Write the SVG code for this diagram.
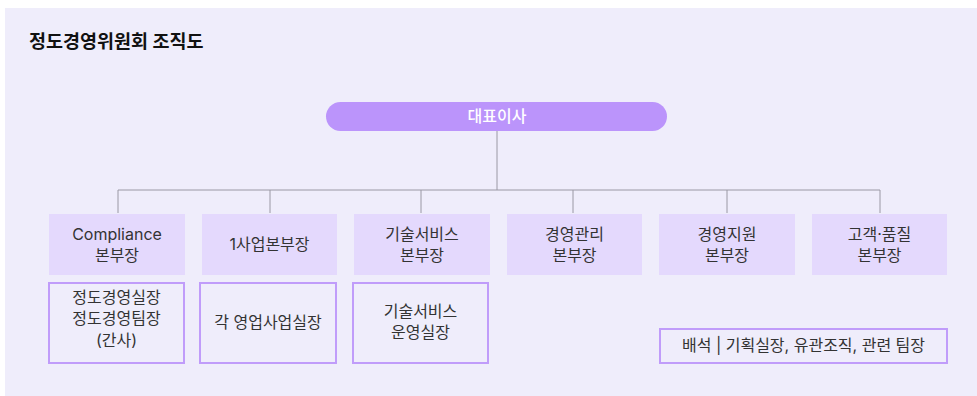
<svg xmlns="http://www.w3.org/2000/svg" width="977" height="396" viewBox="0 0 977 396">
<style>
text{font-family:Inter,"Noto Sans CJK KR","Noto Sans",sans-serif;font-size:16px;fill:#333;text-anchor:middle}
.title{font-size:18.5px;font-weight:bold;fill:#111;text-anchor:start}
.top{fill:#fff;font-weight:500}
.head{fill:#e4d9fd}
.sub{fill:#efedfb;stroke:#c09cfa;stroke-width:2}
.line{stroke:#9a98a4;stroke-width:1;fill:none}
</style>
<rect x="0" y="0" width="977" height="396" fill="#fff"/>
<rect x="5" y="8" width="972" height="388" fill="#efedfb"/>
<text class="title" x="29" y="48">정도경영위원회 조직도</text>
<g id="connectors">
<path class="line" d="M497 131V190M118 190H880M118 190V213M270 190V213M421 190V213M573 190V213M727 190V213M880 190V213"/>
</g>
<g id="ceo"><rect x="326" y="102" width="341" height="29" rx="14.5" fill="#bb94fb"/><text class="top" x="497" y="122">대표이사</text></g>
<g id="compliance"><rect class="head" x="49" y="214" width="136" height="61"/><text x="117" y="240">Compliance</text><text x="117" y="261">본부장</text></g>
<g id="biz1"><rect class="head" x="202" y="214" width="135" height="61"/><text x="269.5" y="250">1사업본부장</text></g>
<g id="tech"><rect class="head" x="354" y="214" width="136" height="61"/><text x="422" y="240">기술서비스</text><text x="422" y="261">본부장</text></g>
<g id="mgmt"><rect class="head" x="507" y="214" width="135" height="61"/><text x="574.5" y="240">경영관리</text><text x="574.5" y="261">본부장</text></g>
<g id="support"><rect class="head" x="659" y="214" width="136" height="61"/><text x="727" y="240">경영지원</text><text x="727" y="261">본부장</text></g>
<g id="quality"><rect class="head" x="812" y="214" width="135" height="61"/><text x="879.5" y="240">고객·품질</text><text x="879.5" y="261">본부장</text></g>
<g id="compliance-sub"><rect class="sub" x="49" y="283" width="135" height="80"/><text x="116.5" y="303">정도경영실장</text><text x="116.5" y="324">정도경영팀장</text><text x="116.5" y="346">(간사)</text></g>
<g id="biz1-sub"><rect class="sub" x="200" y="283" width="136" height="80"/><text x="268" y="328">각 영업사업실장</text></g>
<g id="tech-sub"><rect class="sub" x="353" y="283" width="135" height="80"/><text x="420.5" y="317">기술서비스</text><text x="420.5" y="338">운영실장</text></g>
<g id="note"><rect class="sub" x="660" y="329" width="287" height="34"/><text x="803.5" y="351">배석 | 기획실장, 유관조직, 관련 팀장</text></g>
</svg>
